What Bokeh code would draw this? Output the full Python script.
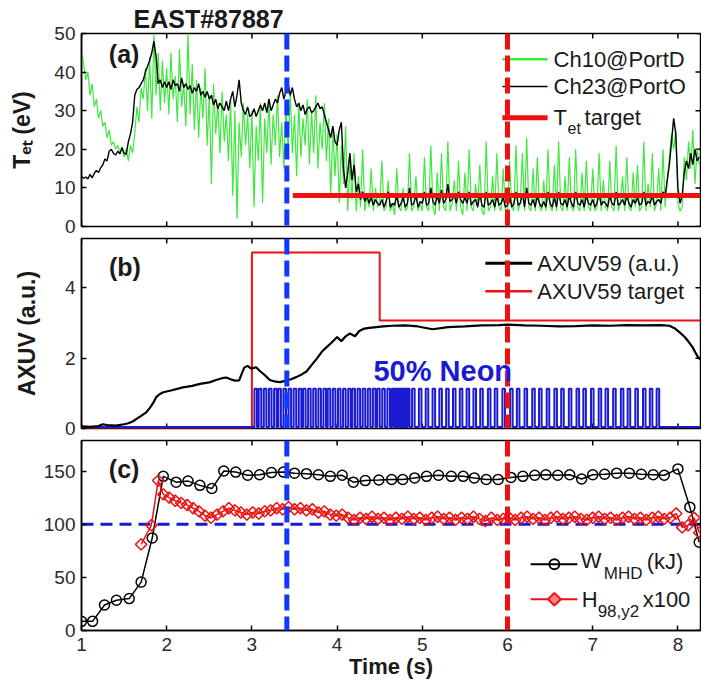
import numpy as np
from bokeh.plotting import figure
from bokeh.models import Range1d, FixedTicker, Span, Label, Title
from bokeh.layouts import column
from bokeh.embed import file_html
from bokeh.resources import INLINE

FONT = "Liberation Sans"

# ---------------- data ----------------
x_ticks = [1, 2, 3, 4, 5, 6, 7, 8]
ya_ticks = [0, 10, 20, 30, 40, 50]
yb_ticks = [0, 2, 4]
yc_ticks = [0, 50, 100, 150]

# probe traces sampled every 25 ms from t = 1.0 s
probe_t0 = 1.0
probe_dt = 0.025
tet_ch10 = [
    46, 42, 38, 40, 34, 37, 31, 33, 28, 30, 26, 27, 23, 25, 21, 22, 20, 21, 19, 20,
    18, 20, 17, 21, 19, 24, 31, 27, 36, 33, 41, 30, 44, 28, 50, 34, 45, 30, 43, 32,
    41, 29, 45, 33, 39, 27, 46, 31, 37, 26, 50, 29, 42, 25, 38, 23, 36, 28, 41, 21,
    34, 11, 37, 24, 32, 19, 35, 22, 29, 17, 33, 8, 30, 2, 27, 18, 32, 21, 29, 15,
    30, 5, 26, 17, 32, 6, 28, 19, 33, 16, 29, 21, 34, 18, 27, 15, 31, 20, 35, 19,
    29, 13, 32, 18, 28, 21, 33, 16, 30, 19, 34, 15, 27, 20, 32, 17, 28, 8, 25, 13,
    24, 6, 21, 11, 26, 4, 17, 7, 19, 4, 13, 5, 20, 4, 8, 5, 15, 4, 10, 5,
    6, 17, 4, 5, 12, 4, 6, 3, 15, 5, 4, 10, 4, 5, 19, 4, 5, 13, 4, 6,
    4, 18, 5, 4, 21, 5, 3, 14, 4, 19, 5, 4, 22, 4, 6, 12, 4, 17, 5, 3,
    14, 4, 20, 5, 4, 11, 5, 16, 4, 3, 22, 4, 5, 13, 4, 19, 5, 4, 15, 4,
    4, 17, 5, 4, 21, 4, 6, 19, 4, 23, 5, 4, 15, 4, 18, 5, 4, 12, 4, 20,
    5, 4, 16, 4, 22, 5, 4, 13, 4, 18, 5, 4, 20, 5, 4, 14, 4, 17, 5, 4,
    15, 4, 5, 19, 4, 12, 5, 4, 17, 5, 4, 21, 4, 6, 13, 4, 18, 5, 4, 14,
    5, 16, 4, 5, 22, 4, 11, 5, 19, 4, 6, 15, 4, 20, 5, 12, 18, 24, 20, 25,
    6, 4, 5, 18, 12, 22, 15, 25, 11, 20, 16,
]
tet_ch23 = [
    13, 12.5, 12.8, 12.3, 13.5, 12.6, 13.8, 14.5, 14, 15.2, 16, 17.5, 17, 19.5, 20, 19, 18.5, 19.5, 18.8, 20.5,
    19, 18.7, 22, 24, 27, 34, 35.5, 36, 37, 38, 40, 41.5, 43, 45, 48, 44, 37, 38, 36, 37.5,
    36, 37.5, 35.5, 38, 36.5, 37, 35, 38.5, 36, 37, 35.5, 36.5, 34.5, 36, 35, 37, 34, 35, 33.5, 35,
    33, 34, 31.5, 33, 30.5, 32, 31, 30, 32.5, 30, 33, 35, 31, 34, 38, 32, 30, 29, 31, 28.5,
    29, 30.5, 28.5, 30, 31.5, 30, 32, 29.5, 33, 30, 31.5, 33, 32, 34.5, 36, 33, 35, 37, 34, 36,
    33, 31, 32, 30, 31.5, 29, 30.5, 31, 29.5, 30, 31, 32, 30.5, 31, 29, 27, 25, 23, 26, 22,
    21, 25, 27, 15, 10, 14, 19, 12, 16, 9, 11, 7, 9, 6.5, 8, 6, 7.5, 5.5, 7, 6,
    5.5, 7, 5, 6.5, 9, 5, 6, 5.5, 8, 5, 6, 7.5, 5, 6, 10, 5.5, 6, 8, 5, 6.5,
    6, 9, 5.5, 6, 10, 6.5, 5.5, 8, 6, 9.5, 6, 7, 11, 6.5, 7, 8, 6, 9, 7, 6,
    7.5, 6, 9, 5.5, 6.5, 7, 5, 8.5, 5.5, 5, 9, 5.5, 6, 7, 5, 8, 5.5, 6, 7.5, 5,
    5.5, 8, 5, 6, 9, 5.5, 6, 8.5, 5, 10, 6, 5.5, 7, 5, 8, 6, 5, 6.5, 5, 9,
    6, 5, 7.5, 5, 9, 6, 5.5, 7, 5, 8, 6, 5, 9, 6, 5.5, 7, 5, 8, 6, 5.5,
    7, 5, 6, 8.5, 5.5, 6.5, 6, 5, 8, 6, 5.5, 9, 5.5, 6, 7, 5.5, 8, 6, 5, 7,
    6, 7.5, 5.5, 6, 9, 5.5, 6.5, 6, 8, 5.5, 6.5, 7, 6, 9, 8, 12, 16, 22, 28, 24,
    10, 6, 8, 14, 17, 15, 19, 16, 20, 17, 18,
]
tet_target_t = [3.48, 8.265]
tet_target_v = [8.0, 8.0]

axuv_t = [1.00, 1.10, 1.20, 1.25, 1.30, 1.40, 1.50, 1.55, 1.60, 1.65,
          1.70, 1.76, 1.80, 1.84, 1.88, 1.92, 1.96, 2.05, 2.19, 2.30,
          2.39, 2.50, 2.58, 2.65, 2.70, 2.75, 2.80, 2.85, 2.88, 2.91,
          2.95, 2.99, 3.05, 3.10, 3.15, 3.21, 3.28, 3.33, 3.40, 3.46,
          3.52, 3.58, 3.64, 3.70, 3.76, 3.82, 3.88, 3.94, 4.00, 4.05,
          4.10, 4.15, 4.21, 4.26, 4.32, 4.38, 4.46, 4.54, 4.65, 4.80,
          4.95, 5.12, 5.30, 5.50, 5.70, 5.90, 6.00, 6.20, 6.40, 6.60,
          6.80, 7.00, 7.20, 7.40, 7.60, 7.80, 7.90, 7.96, 8.02, 8.08,
          8.13, 8.17, 8.20, 8.23, 8.265]
axuv_v = [0.06, 0.05, 0.07, 0.12, 0.10, 0.08, 0.12, 0.15, 0.20, 0.28,
          0.36, 0.46, 0.58, 0.72, 0.90, 0.98, 1.03, 1.08, 1.17, 1.21,
          1.27, 1.31, 1.38, 1.43, 1.45, 1.40, 1.36, 1.37, 1.55, 1.73,
          1.78, 1.70, 1.74, 1.62, 1.52, 1.38, 1.33, 1.32, 1.36, 1.40,
          1.46, 1.53, 1.62, 1.80, 1.98, 2.18, 2.32, 2.45, 2.60, 2.48,
          2.62, 2.70, 2.62, 2.77, 2.84, 2.86, 2.88, 2.90, 2.92, 2.93,
          2.90, 2.82, 2.88, 2.90, 2.93, 2.94, 2.95, 2.93, 2.92, 2.90,
          2.91, 2.93, 2.92, 2.94, 2.93, 2.94, 2.92, 2.85, 2.73, 2.60,
          2.45, 2.32, 2.18, 2.05, 1.95]
axuv_target_t = [1.0, 3.0, 3.0, 4.5, 4.5, 8.265]
axuv_target_v = [0.0, 0.0, 5.0, 5.0, 3.07, 3.07]

neon_pulse_start = [
    3.03, 3.08, 3.14, 3.20, 3.26, 3.31, 3.37, 3.43, 3.49, 3.55,
    3.60, 3.66, 3.72, 3.78, 3.84, 3.89, 3.95, 4.01, 4.07, 4.13,
    4.18, 4.24, 4.30, 4.36, 4.42, 4.47, 4.53, 4.59,
    4.64, 4.66, 4.68, 4.70, 4.72, 4.74, 4.76, 4.78, 4.80, 4.82,
    4.88, 4.96, 5.04, 5.12, 5.20, 5.28, 5.36, 5.44, 5.52, 5.60,
    5.68, 5.77, 5.85, 5.94, 6.03, 6.11, 6.20, 6.29, 6.37, 6.46,
    6.55, 6.63, 6.72, 6.81, 6.89, 6.98, 7.07, 7.15, 7.24, 7.33,
    7.41, 7.50, 7.59, 7.67, 7.75,
]
neon_pulse_width = 0.03
neon_level = 1.13
neon_base = 0.04

wmhd_t = [1.00, 1.13, 1.27, 1.41, 1.56, 1.70, 1.83, 1.96, 2.11, 2.25,
          2.39, 2.53, 2.67, 2.81, 2.95, 3.09, 3.23, 3.37, 3.50, 3.64,
          3.78, 3.92, 4.06, 4.19, 4.33, 4.49, 4.64, 4.77, 4.91, 5.05,
          5.19, 5.34, 5.48, 5.61, 5.75, 5.89, 6.04, 6.18, 6.32, 6.45,
          6.59, 6.73, 6.87, 7.00, 7.14, 7.28, 7.43, 7.57, 7.71, 7.84,
          8.00, 8.14, 8.25]
wmhd_v = [8.6, 8.6, 24, 28.5, 30, 45.5, 87, 145, 139.5, 140.5,
          136.5, 133.5, 150, 149, 146, 146.5, 148.5, 149, 148, 147.5,
          146.5, 145, 146, 139.5, 141, 141.5, 142, 142, 143.5, 145,
          146, 145, 145, 143.5, 142, 142, 144, 145, 146, 146.5,
          146, 146.5, 142.5, 146.5, 147, 148, 148, 147, 146.5, 146,
          152, 116, 83]

h98_t = [1.70, 1.82, 1.90, 1.96, 2.03, 2.10, 2.17, 2.24, 2.31, 2.38,
         2.45, 2.52, 2.59, 2.66, 2.73, 2.80, 2.87, 2.94, 3.01, 3.08,
         3.15, 3.22, 3.29, 3.36, 3.43, 3.50, 3.57, 3.64, 3.71, 3.78,
         3.85, 3.92, 3.99, 4.06, 4.13, 4.20, 4.27, 4.34, 4.41, 4.48,
         4.55, 4.62, 4.69, 4.76, 4.83, 4.90, 4.97, 5.04, 5.11, 5.18,
         5.25, 5.32, 5.39, 5.46, 5.53, 5.60, 5.67, 5.74, 5.81, 5.88,
         5.95, 6.02, 6.09, 6.16, 6.23, 6.30, 6.37, 6.44, 6.51, 6.58,
         6.65, 6.72, 6.79, 6.86, 6.93, 7.00, 7.07, 7.14, 7.21, 7.28,
         7.35, 7.42, 7.49, 7.56, 7.63, 7.70, 7.77, 7.84, 7.91, 7.98,
         8.05, 8.12, 8.19, 8.25]
h98_v = [81, 99, 141, 128, 125, 122, 120, 118, 115, 112,
         108, 106, 109, 112, 115, 113, 111, 109, 111, 110,
         112, 113, 115, 114, 116, 114, 115, 113, 114, 111,
         112, 109, 108, 109, 106, 104, 106, 105, 107, 105,
         106, 104, 106, 105, 107, 105, 106, 104, 106, 107,
         105, 106, 104, 106, 105, 107, 105, 103, 106, 104,
         105, 106, 104, 106, 107, 105, 106, 104, 106, 107,
         105, 106, 107, 105, 104, 106, 107, 105, 106, 104,
         106, 107, 105, 106, 104, 106, 107, 105, 106, 110,
         97, 99, 106, 92]
h98_ref = 100

t_neon_marker = 3.41   # blue dashed
t_detach_marker = 6.0  # red dashed

# ---------------- style ----------------
X0, X1 = 1.0, 8.265
W = 701
GREEN = "#3ee83e"
RED = "#ee1111"
BLUE_V = "#1238ff"
NAVY = "#1a1ad2"
TXT = "#1a1a1a"
TICK_TXT = "#2a2a2a"


def style_axis(ax, ticks):
    ax.ticker = FixedTicker(ticks=ticks)
    ax.major_tick_in = 5
    ax.major_tick_out = 0
    ax.minor_tick_line_color = None
    ax.axis_line_color = "black"
    ax.axis_line_width = 1.5
    ax.major_tick_line_color = "black"
    ax.major_tick_line_width = 1.5
    ax.major_label_text_font = FONT
    ax.major_label_text_font_size = "19px"
    ax.major_label_text_color = TICK_TXT
    ax.axis_label_text_font = FONT
    ax.axis_label_text_font_style = "bold"
    ax.axis_label_text_color = TXT


def make_fig(h, yr, yticks, bt, bb, show_x):
    p = figure(width=W, height=h, x_range=Range1d(X0, X1), y_range=Range1d(*yr),
               output_backend="svg", toolbar_location=None,
               min_border_left=81, min_border_right=1,
               min_border_top=bt, min_border_bottom=bb)
    p.grid.visible = False
    p.outline_line_color = "black"
    p.outline_line_width = 1.5
    p.background_fill_color = "white"
    p.border_fill_color = "white"
    style_axis(p.yaxis[0], yticks)
    p.yaxis[0].major_label_standoff = 6
    style_axis(p.xaxis[0], x_ticks)
    p.xaxis[0].major_label_standoff = 7
    p.xaxis[0].visible = show_x
    # inner ticks on the remaining sides (clipped to the frame, so only the inner half shows)
    ymin, ymax = yr
    tick_edges_x = [ymax] if show_x else [ymin, ymax]
    for ye in tick_edges_x:
        p.scatter(x_ticks, [ye] * len(x_ticks), marker="dash", size=10, angle=np.pi / 2,
                  line_color="black", line_width=1.5)
    p.scatter([X1] * len(yticks), yticks, marker="dash", size=10,
              line_color="black", line_width=1.5)
    return p


def lab(p, x, y, text, size, bold=False, color=TXT, align="left", xo=0, yo=0):
    p.add_layout(Label(x=x, y=y, text=text, x_offset=xo, y_offset=yo,
                       text_font=FONT, text_font_size=f"{size}px",
                       text_font_style="bold" if bold else "normal",
                       text_color=color, text_align=align, text_baseline="middle"))


def vmarkers(p):
    p.add_layout(Span(location=t_neon_marker, dimension="height", line_color=BLUE_V,
                      line_width=5, line_dash="16 6"))
    p.add_layout(Span(location=t_detach_marker, dimension="height", line_color=RED,
                      line_width=5, line_dash="16 6"))


# ---------------- panel (a) ----------------
pa = make_fig(237, (0, 50), ya_ticks, 33, 11, False)
pa.title = Title(text="EAST#87887", align="left", offset=52, standoff=1,
                 text_font=FONT, text_font_size="25px", text_font_style="bold",
                 text_color=TXT)
pa.yaxis[0].axis_label = "T\u2091\u209c (eV)"
pa.yaxis[0].axis_label_text_font_size = "23px"
pa.yaxis[0].axis_label_standoff = 16
probe_t = probe_t0 + probe_dt * np.arange(len(tet_ch10))
pa.line(probe_t, tet_ch10, line_color=GREEN, line_width=1.2)
pa.line(probe_t, tet_ch23, line_color="black", line_width=1.4)
pa.line(tet_target_t, tet_target_v, line_color=RED, line_width=5)
vmarkers(pa)
# legend (a)
pa.line([5.94, 6.47], [43.3, 43.3], line_color=GREEN, line_width=2.5)
pa.line([5.94, 6.47], [36.3, 36.3], line_color="black", line_width=1.5)
pa.line([5.94, 6.47], [28.2, 28.2], line_color=RED, line_width=5)
lab(pa, 6.54, 43.3, "Ch10@PortD", 22)
lab(pa, 6.54, 36.3, "Ch23@PortO", 22)
lab(pa, 6.54, 28.2, "T", 22)
lab(pa, 6.54, 28.2, "et", 16, xo=14, yo=-11)
lab(pa, 6.54, 28.2, "target", 22, xo=31)
lab(pa, 1.5, 44.7, "(a)", 25, bold=True, align="center")

# ---------------- panel (b) ----------------
pb = make_fig(202, (0, 5.4), yb_ticks, 1, 11, False)
pb.yaxis[0].axis_label = "AXUV (a.u.)"
pb.yaxis[0].axis_label_text_font_size = "23px"
pb.yaxis[0].axis_label_standoff = 22
pb.line(axuv_target_t, axuv_target_v, line_color=RED, line_width=2)
pulse_x = [X0, neon_pulse_start[0]]
pulse_y = [neon_base, neon_base]
for s in neon_pulse_start:
    pulse_x += [s, s, s + neon_pulse_width, s + neon_pulse_width]
    pulse_y += [neon_base, neon_level, neon_level, neon_base]
pulse_x.append(X1)
pulse_y.append(neon_base)
pb.line(pulse_x, pulse_y, line_color=NAVY, line_width=2)
pb.line(axuv_t, axuv_v, line_color="black", line_width=2.2)
vmarkers(pb)
pb.line([5.74, 6.29], [4.70, 4.70], line_color="black", line_width=3)
pb.line([5.74, 6.29], [3.90, 3.90], line_color=RED, line_width=2.5)
lab(pb, 6.35, 4.68, "AXUV59 (a.u.)", 22)
lab(pb, 6.35, 3.88, "AXUV59 target", 22)
lab(pb, 1.51, 4.6, "(b)", 25, bold=True, align="center")
lab(pb, 5.24, 1.64, "50% Neon", 29, bold=True, color=NAVY, align="center")

# ---------------- panel (c) ----------------
pc = make_fig(246, (0, 178.7), yc_ticks, 1, 55, True)
pc.xaxis[0].axis_label = "Time (s)"
pc.xaxis[0].axis_label_text_font_size = "22px"
pc.xaxis[0].axis_label_standoff = 0
pc.add_layout(Span(location=h98_ref, dimension="width", line_color=NAVY, line_width=3,
                   line_dash="12 7", level="underlay"))
pc.line(wmhd_t, wmhd_v, line_color="black", line_width=1.5)
pc.scatter(wmhd_t, wmhd_v, marker="circle", size=10, line_color="black",
           line_width=1.5, fill_color=None)
pc.line(h98_t, h98_v, line_color=RED, line_width=1.5)
pc.scatter(h98_t, h98_v, marker="square", angle=np.pi / 4, size=8, line_color=RED,
           line_width=1.5, fill_color=None)
vmarkers(pc)
pc.line([6.27, 6.82], [62.3, 62.3], line_color="black", line_width=2)
pc.scatter([6.55], [62.3], marker="circle", size=10, line_color="black",
           line_width=1.8, fill_color=None)
pc.line([6.27, 6.82], [29.4, 29.4], line_color=RED, line_width=2)
pc.scatter([6.55], [29.4], marker="square", angle=np.pi / 4, size=9, line_color=RED,
           line_width=2, fill_color="#ff8080")
lab(pc, 6.86, 65.7, "W", 22)
lab(pc, 6.86, 65.7, "MHD", 17, xo=23, yo=-13)
lab(pc, 6.86, 65.7, "(kJ)", 22, xo=66, yo=-1)
lab(pc, 6.87, 29.6, "H", 22)
lab(pc, 6.87, 29.6, "98,y2", 17, xo=16, yo=-12)
lab(pc, 6.87, 29.6, "x100", 22, xo=61)
lab(pc, 1.5, 151.9, "(c)", 25, bold=True, align="center")

layout = column(pa, pb, pc)
open("out.html", "w").write(file_html(layout, INLINE))
